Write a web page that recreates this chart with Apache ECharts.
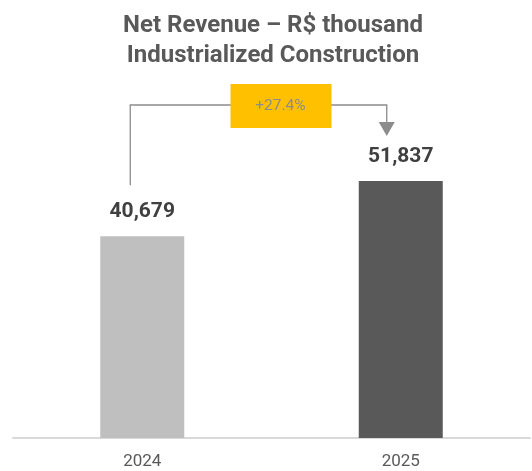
<!DOCTYPE html>
<html>
<head>
<meta charset="utf-8">
<script src="https://cdn.jsdelivr.net/npm/echarts@6/dist/echarts.min.js"></script>
<style>html,body{margin:0;padding:0;background:#fff;}#c{width:532px;height:471px;}</style>
</head>
<body>
<div id="c"></div>
<script>
const titleLines = ['Net Revenue – R$ thousand', 'Industrialized Construction'];
const categories = ['2024', '2025'];
const values = [40679, 51837];
const barColors = ['#bfbfbf', '#595959'];
const growthLabel = '+27.4%';

const chart = echarts.init(document.getElementById('c'), null, {renderer: 'canvas'});
const fmt = v => v.toLocaleString('en-US');
chart.setOption({
  animation: false,
  title: {
    text: titleLines.join('\n'),
    left: 268, top: 6, textAlign: 'center',
    textStyle: {fontFamily: 'Roboto', fontSize: 24, fontWeight: 'bold', color: '#595959', lineHeight: 30}
  },
  grid: {left: 13, right: 2, top: 81, bottom: 33},
  xAxis: {
    type: 'category', data: categories,
    axisLine: {lineStyle: {color: '#d9d9d9', width: 2}},
    axisTick: {show: false},
    axisLabel: {fontFamily: 'Roboto', fontSize: 17, color: '#595959', margin: 15}
  },
  yAxis: {type: 'value', min: 0, max: 72000, show: false, splitLine: {show: false}},
  series: [{
    type: 'bar', barWidth: 84,
    data: values.map((v, i) => ({value: v, itemStyle: {color: barColors[i]}})),
    label: {
      show: true, position: 'top', distance: 14,
      formatter: p => fmt(p.value),
      fontFamily: 'Roboto', fontSize: 21, fontWeight: 'bold', color: '#404040'
    }
  }]
});

function drawBracket() {
  const p0 = chart.convertToPixel({gridIndex: 0}, [0, values[0]]);
  const p1 = chart.convertToPixel({gridIndex: 0}, [1, values[1]]);
  const lx = p0[0] - 12, rx = p1[0] - 14;
  const topY = 105;
  const lBottom = p0[1] - 51;
  const arrowTip = p1[1] - 45;
  const midX = (lx + rx) / 2 + 22;
  const lc = '#8c8c8c';
  chart.setOption({
    graphic: [
      {type: 'polyline', shape: {points: [[lx, lBottom], [lx, topY], [rx, topY], [rx, arrowTip - 14]]},
       style: {stroke: lc, lineWidth: 1.3, fill: null}, silent: true},
      {type: 'polygon', shape: {points: [[rx - 8, arrowTip - 14], [rx + 8, arrowTip - 14], [rx, arrowTip]]},
       style: {fill: lc}, silent: true},
      {type: 'rect', shape: {x: midX - 50, y: topY - 21, width: 101, height: 44},
       style: {fill: '#ffc000'}, silent: true},
      {type: 'text', x: midX, y: topY + 1,
       style: {text: growthLabel, fill: '#8c8c8c', font: '15.5px Roboto', align: 'center', verticalAlign: 'middle'}, silent: true}
    ]
  });
}
drawBracket();
</script>
</body>
</html>
